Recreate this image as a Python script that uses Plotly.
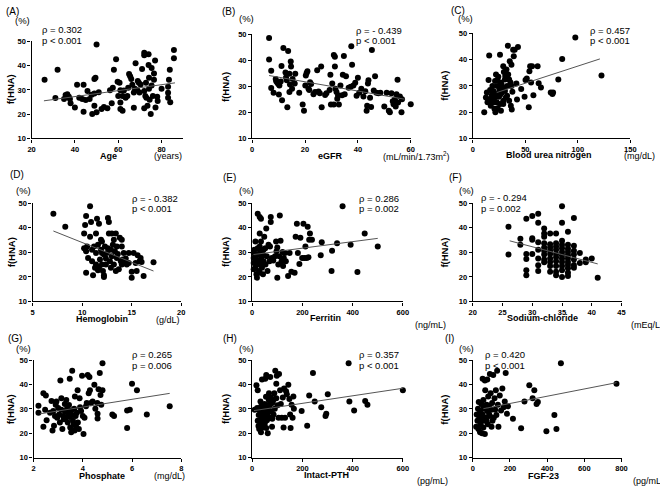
import plotly.graph_objects as go

W, H = 660, 490

# ---------------- data ----------------
age_x = [26,31,32,35,35.7,36.5,37.2,37.7,38,40,41,42,43.4,44,44,45,45.8,46.8,47.7,48,49,49,49,49.5,50,50,51,52.3,53.4,55,56.2,57,57.5,58,59,59.7,60,60.6,61,61,61,62,62,62.6,63.4,64.2,64.6,65,65.5,66,66.5,67.2,67.2,67.7,68,68.8,69,69.5,69.8,70.3,71,72,72,72,72,72.5,72.8,73,73.5,74,74,74.2,74.2,74.5,75,75.4,75.4,76,76.5,76.5,77,77.2,78,78.2,80,83,83,83.4,83.8,84,85.7,85.7,83]
age_y = [34.2,26.7,38.3,26.2,27.9,28.2,27.2,26.2,24.5,22.8,32.1,26.8,26.2,32.1,21,25.8,29.5,26.2,28,20.1,23.5,28.5,34.5,35,48.7,20.8,29,22.1,23,22.4,29.9,24.5,30.9,38.3,42.6,33.4,27.5,32.9,29.9,24.8,22.1,21.4,27.5,29.7,26.8,27.5,30.9,36.5,35.6,34.5,32.1,28.9,22.7,30.5,41,29.9,33.7,32.9,28.9,32.2,38.6,45.3,44.3,29.5,22.4,27.5,32.9,26.8,23.5,44.7,40.2,35,30.5,25.9,20.1,39,31.8,27.5,36.7,34.2,42.1,22.8,27.2,25.4,30.5,26.8,31.3,34.2,38.3,24.9,46.4,43,28.8]

egfr_x = [6.4,6.4,7.2,7.2,8.1,8.9,9.1,9.5,9.9,10.1,10.3,10.8,11.1,11.3,11.8,12.6,12.8,13.1,13.3,13.6,14.1,14.1,14.3,14.6,14.7,15.1,15.3,16.1,16.3,17.8,19.1,19.6,20.1,20.3,20.6,20.9,21.3,21.6,21.9,22.3,23.2,23.8,24.6,25.1,25.6,26.1,26.3,27.6,28.1,29.3,29.6,29.8,30.3,30.9,30.9,31.3,31.3,31.5,31.9,32.2,32.5,32.8,33.4,34,34.3,34.7,35,35.5,36.5,37.3,37.5,37.8,38.3,39,39.5,40,40.5,41.3,42.1,42.8,43.3,43.5,43.8,44,44.6,45,45.3,46,46.5,47,47.8,48.5,50,50.9,51.7,52.1,52.7,53.2,53.5,54,54.3,54.6,55,55.2,55.9,56.5,56.7,60]
egfr_y = [48.6,40.4,36,29.4,27.6,32.9,32,31.4,30.9,26.9,30.4,31.9,37.9,24.7,44.8,35.4,33.4,32.4,22,43.6,34.9,27.9,30.8,39.6,37.7,29.1,32.9,31.1,34.9,27.6,23.1,20.7,30.4,34.2,35.2,35.8,29.1,28.6,31.6,30.9,27,27.9,36.2,28.1,27.4,37.7,22,26.7,27.4,28.6,34.5,23.1,31.1,23.1,42.1,41.4,37.7,29.1,27.9,25.3,26.6,23.1,30.4,26.6,34.5,41.7,27,33.9,29.5,29.9,45.5,38.3,30.4,31.4,26.4,33.3,27.6,29.1,26.1,28.2,20.7,22.6,31.1,32.4,25.7,22.1,44,28.4,33.9,27.6,27.4,27.6,22.3,27.6,20.7,20.1,27.4,24.3,23.2,25.1,22.3,27,32.6,23.8,26.1,20.1,25.1,23.2]

bun_x = [10.9,12.5,13.4,14,15,15.6,16.5,16.5,17.1,18.1,18.7,19,19.6,20.3,20.6,21.2,21.5,22.1,22.1,22.8,23.4,23.7,24.3,24.6,25.3,25.9,25.9,26.5,26.8,27.4,28.4,29,29,29.6,30.6,30.9,31.5,32.1,32.7,33.4,33.7,34.6,35.2,35.9,36.2,36.8,37.1,37.7,38.4,39,39.9,41.5,42.1,43,46.1,49.3,50.2,51.4,53.3,53.9,54.6,55.5,56.4,57.7,61.7,62.7,64.9,74.2,75.8,76.4,81.4,85.1,97.6,122.5,21.2,25.9,27.4,30.6,19,23.4,29,32.7,34.6,36.8]
bun_y = [20,25.6,27.5,23.8,32.3,41.6,28.5,25,22.5,26.5,30,23.8,28.1,25.3,21.3,31.9,20,34.4,26.9,23.8,30,21.5,33.5,25.9,28.5,41.9,23.1,31.3,20.6,27.3,29.4,37.5,24.4,35.3,28.1,33.8,25.6,36.3,30,45.3,34.4,32.5,39.4,31.3,22.5,38.1,21,27.8,43.8,41.3,43.8,30.9,24.8,44.8,28.8,25.9,32.3,32.8,21.9,35.6,37.5,31.3,37.5,26.5,37.5,31,29.4,27.5,26.9,27.5,32.5,40.3,48.5,34,23.8,26.5,30.6,32.5,27.3,32.3,23.1,26.3,24.4,30]

hb_x = [7.1,8.3,10.2,10.3,10.4,10.2,10.4,10.4,10.5,10.6,10.8,10.8,10.9,11,11,11.1,11.2,11.3,11.4,11.4,11.5,11.6,11.6,11.7,11.8,11.9,11.9,12,12,12.1,12.2,12.2,12.2,12.3,12.4,12.4,12.5,12.6,12.6,12.7,12.7,12.8,12.9,12.9,13,13,13.1,13.2,13.3,13.4,13.4,13.5,13.6,13.7,13.8,13.9,14,14,14.1,14.2,14.3,14.4,14.5,14.7,15,15,15.2,15.4,15.5,15.6,15.8,15.9,16,16.2,17.2,12,11.7,11.4,13.2,13.5,14,14.7]
hb_y = [45.7,40.4,37.7,41.1,44.8,31.7,30.4,21.7,32.4,27.7,48.8,36.4,42.4,31.1,26.4,20.7,32.4,23.7,29.7,37.7,43.7,22.7,33.1,41.7,27.1,35.1,31.1,25.1,29.7,22.4,20.7,20,29.1,32.4,27.5,25.1,29.7,31.7,44,42.4,37.7,26.4,23.7,31.1,28.4,37.7,33.1,25.1,30.4,37.7,22.4,27.7,29.3,23.1,36,26.4,35.1,25.1,27.1,29.7,26.4,27.5,25.1,25.7,19.7,22.1,29.7,25.7,22.4,28.8,26.4,27.7,26.1,20.4,26,34.4,23.7,25.1,35.1,32.4,32.4,29.7]

fer_x = [22,30,35,13,9,6,6,6,13,17,19,22,23,26,27,30,30,32,32,35,36,39,40,43,45,45,48,52,53,56,58,61,65,69,71,74,74,78,84,91,95,97,100,100,104,108,110,113,117,121,123,126,130,134,143,149,156,169,173,178,182,188,192,199,204,208,212,217,221,224,227,230,238,273,277,316,318,338,360,392,419,448,500,6,17,26,39,19,30,45]
fer_y = [45.7,44.4,43.7,34.4,31.1,27.7,25.7,23.1,23.7,21.1,19.7,31.7,29.1,26.4,22.4,37.7,32.4,29.7,25.1,34.4,27.7,23.7,30.7,21.1,28.8,26.4,36.4,31.7,25.1,39.7,28.4,22.4,33.1,26.4,32.4,44.4,42.4,27.7,26.7,28.4,34.4,30.4,19.7,32,25.1,28.4,45,34.7,26.4,30.1,24.4,27.7,29.7,26.4,20.4,29.7,22.1,21.7,36.4,41.7,29.7,25.3,36,27.7,41.7,27.7,32.4,27.7,40.4,28,35.1,37.7,35.1,28.8,34.1,22.4,30.7,33.7,48.8,33.1,22,37.7,32.4,29.7,27.1,29.3,25.7,25.1,21.7,31.1]

nacl_x = [26,26,28,28,29,29,29,29,29,30,30,30,30,31,31,31,31,31,31,31,
          32,32,32,32,32,32,32,32,32,33,33,33,33,33,33,33,33,33,
          34,34,34,34,34,34,34,34,34,34,35,35,35,35,35,35,35,35,35,35,35,35,
          36,36,36,36,36,36,36,36,36,36,36,37,37,37,37,37,37,37,38,38,39,39,40,41]
nacl_y = [40.4,29.1,35.5,33.1,43.7,29.3,27.3,22.7,20.7,44.8,35.7,35.1,29.3,45.7,42.1,34.1,31.1,27.5,24.7,22.4,
          39.7,37.7,36.4,33.7,32,30.7,29.1,27.1,26,37.7,33.3,32,30.7,29.3,27.5,26.1,24.4,22.1,
          37.7,33.7,32.4,31.1,29.3,28,26.4,24.4,22.1,20.7,48.8,42.1,34.7,33.1,31.7,30.1,28.8,27.5,26.1,24.4,22.7,20,
          38.4,33.1,31.5,30.1,28.8,27.5,26.1,24.8,23.5,21.7,20.4,44,32.7,30.7,29.1,27.1,24.8,23.7,29.7,25.7,27.1,26,27.5,19.7]

phos_x = [2.2,2.2,2.4,2.4,2.47,2.5,2.53,2.67,2.73,2.77,2.8,2.83,2.87,2.9,2.93,2.96,3,3.04,3.07,3.09,3.13,3.13,3.17,3.2,3.23,3.27,3.28,3.31,3.33,3.36,3.39,3.41,3.44,3.47,3.47,3.49,3.53,3.53,3.57,3.57,3.6,3.63,3.65,3.67,3.68,3.71,3.73,3.76,3.79,3.8,3.84,3.87,3.89,3.93,3.97,4,4.03,4.07,4.13,4.16,4.2,4.24,4.27,4.29,4.33,4.4,4.47,4.51,4.59,4.6,4.6,4.64,4.69,4.72,4.75,4.8,4.8,5.2,5.27,5.8,5.8,5.91,6,6.2,6.6,7.53]
phos_y = [31.3,28.4,36.4,22.7,29.7,35.5,25.3,28.4,33.3,21.1,29.1,23.1,27.1,31.7,33.1,26.4,30.4,27.7,24.4,41.7,34.4,29.7,21.7,27.1,25.7,32,28.8,26.4,33.7,30.1,24.4,28,31.6,42.4,26.7,22.4,29.3,20.4,45.7,27.5,25.1,23.5,30.1,21.1,35.1,27.1,22.7,28.4,37.7,24.4,21.7,34.4,30.7,29.1,43.7,27.1,19.7,26.4,31.1,32.4,44,36.4,43.1,37.7,32.4,33.1,40,30.1,32.4,28,26.1,38.1,44.8,35.7,31.7,48.8,37.7,27.7,27.1,22.1,29.3,29.7,40.4,37.7,27.7,31.1]

pth_x = [17,22,10,20,22,26,28,30,33,33,35,38,39,41,43,46,49,51,52,54,56,56,59,62,63,66,67,69,69,72,75,77,79,80,83,85,88,90,92,96,96,98,101,105,107,111,114,118,122,125,127,131,135,138,144,148,151,153,157,161,164,166,197,219,227,242,249,275,292,295,301,384,387,406,450,459,600,30,40,50,60,70,80,45,35,25,55]
pth_y = [39.7,37.7,29.7,30.4,25.1,27.5,21.7,29.3,33.1,23.7,20.4,26.7,42.1,22.4,28.4,25.1,32,27.1,42.4,30.4,44,22.1,25.3,20,29.1,33.7,36.4,31.1,26.4,43.1,34.7,28.8,22.7,32.4,33.3,27.7,36.4,30.1,45.7,40.4,34.4,43.7,31.5,26.4,44.4,37.7,32,26.4,34.7,22.4,38.4,26.4,37.3,36,40,34.1,27.7,22.1,31.7,26.4,35.1,30.1,29.1,23.1,35.5,44.8,33.1,30.7,27.1,28,36,48.8,33.1,29.3,33.3,31.7,37.7,25,30,24,28,32,26,27,31,23,35]

fgf_x = [18,21,25,28,30,32,35,39,39,42,46,48,50,53,53,57,57,60,62,65,65,67,71,74,78,78,81,83,88,92,92,96,99,101,104,110,113,117,120,124,127,131,135,138,145,152,159,166,172,177,184,189,216,260,278,304,322,331,343,350,396,439,450,474,773,32,44,57,74,88,106]
fgf_y = [22.7,27.7,25.1,30.1,21.7,32.8,26.4,20.4,29.1,23.7,32,25.7,20,42.4,27.7,33.7,22.4,30.1,25.1,41.7,19.7,37.7,26.4,31.7,42.1,29.1,23.7,35.1,31.3,44.4,27.1,36.4,29.7,22.7,32.4,44,26.4,34.4,29.7,37.7,27.5,45.7,31.7,22.7,35.5,29.3,38.4,30.7,33.1,44.8,28,31.1,26,22,33.1,39.7,34.4,37.7,32,32.8,20.8,27.5,21.7,48.8,40.4,25.1,27.1,31.1,25.1,27.7,25.1]

# regression lines (end points)
fit_x = {"A": [25.7, 86.2], "B": [6.4, 57.7], "C": [22.8, 121], "D": [7.1, 17.2], "E": [5, 500],
         "F": [26.2, 41], "G": [2.27, 7.53], "H": [7, 600], "I": [57, 773]}
fit_y = {"A": [25.5, 32.9], "B": [34.2, 25.1], "C": [27.5, 40.3], "D": [38.7, 22.4], "E": [29.1, 35.7],
         "F": [34.7, 25.3], "G": [28, 36.4], "H": [29.3, 38.5], "I": [30.1, 40.8]}

rho_text = ["ρ = 0.302", "ρ = - 0.439", "ρ = 0.457", "ρ = - 0.382", "ρ = 0.286", "ρ = - 0.294",
            "ρ = 0.265", "ρ = 0.357", "ρ = 0.420"]
p_text = ["p < 0.001", "p < 0.001", "p < 0.001", "p < 0.001", "p = 0.002", "p = 0.002",
          "p = 0.006", "p < 0.001", "p < 0.001"]
x_titles = ["Age", "eGFR", "Blood urea nitrogen", "Hemoglobin", "Ferritin", "Sodium-chloride",
            "Phosphate", "Intact-PTH", "FGF-23"]
units = ["(years)", "(mL/min/1.73m<sup>2</sup>)", "(mg/dL)", "(g/dL)", "(ng/mL)", "(mEq/L)",
         "(mg/dL)", "(pg/mL)", "(pg/mL)"]
letters = ["(A)", "(B)", "(C)", "(D)", "(E)", "(F)", "(G)", "(H)", "(I)"]
x_ranges = [[20, 90], [0, 60], [0, 150], [5, 20], [0, 600], [20, 45], [2, 8], [0, 600], [0, 800]]
x_ticks = [[20, 40, 60, 80], [0, 20, 40, 60], [0, 50, 100, 150], [5, 10, 15, 20], [0, 200, 400, 600],
           [20, 25, 30, 35, 40, 45], [2, 4, 6, 8], [0, 200, 400, 600], [0, 200, 400, 600, 800]]
y_ticks = [10, 20, 30, 40, 50]

xs = [age_x, egfr_x, bun_x, hb_x, fer_x, nacl_x, phos_x, pth_x, fgf_x]
ys = [age_y, egfr_y, bun_y, hb_y, fer_y, nacl_y, phos_y, pth_y, fgf_y]
keys = ["A", "B", "C", "D", "E", "F", "G", "H", "I"]

# ---------------- layout (pixel geometry) ----------------
boxes = [(28, 182, 38, 137), (252, 413, 31, 137), (476, 636, 30, 137),
         (29, 180, 203, 303), (252, 405, 203, 303), (476, 627, 203, 303),
         (30, 180, 363, 462), (252, 405, 363, 462), (476, 627, 363, 462)]
letter_pos = [(0, 8), (219, 8), (452, 7), (4, 174), (220, 177), (450, 177), (2, 341), (220, 341), (446, 341)]
pct_pos = [(19, 17), (246, 15), (469, 15), (20, 190), (246, 190), (470, 190), (20, 351), (246, 351), (470, 351)]
rho_pos = [(37, 26, 37), (355, 27, 37), (593, 27, 37), (128, 198, 208), (358, 198, 208), (482, 197, 208),
           (128, 357, 368), (358, 357, 368), (486, 357, 368)]
xt_pos = [(106, 155), (332, 155), (553, 154), (100, 321), (326, 320), (547, 320), (100, 481), (327, 480), (548, 481)]
unit_pos = [(150, 155), (383, 155), (627, 155), (152, 322), (415, 327), (635, 327), (150, 481), (417, 486), (637, 486)]
yt_pos = [(7, 87), (225, 85), (447, 83), (7, 253), (225, 253), (447, 253), (7, 413), (225, 413), (447, 413)]

REG = "Arial, Liberation Sans, sans-serif"


def px(x):
    return x / W


def py(y):
    return 1 - y / H


fig = go.Figure()
layout = dict(width=W, height=H, margin=dict(l=0, r=0, t=0, b=0, pad=0), showlegend=False,
              paper_bgcolor="white", plot_bgcolor="white", annotations=[])

for i in range(9):
    n = i + 1
    xa = "x" if n == 1 else f"x{n}"
    ya = "y" if n == 1 else f"y{n}"
    l, r, t, b = boxes[i]
    axis_common = dict(showline=True, linecolor="black", linewidth=1.3, ticks="outside", ticklen=3,
                       tickwidth=1.3, tickcolor="black", showgrid=False, zeroline=False,
                       tickfont=dict(family=REG, size=7.5, color="black", weight="bold"))
    layout["xaxis" if n == 1 else f"xaxis{n}"] = dict(
        domain=[px(l), px(r)], anchor=ya, range=x_ranges[i], tickvals=x_ticks[i], **axis_common)
    layout["yaxis" if n == 1 else f"yaxis{n}"] = dict(
        domain=[py(b), py(t)], anchor=xa, range=[10, 50], tickvals=y_ticks, **axis_common)

    fig.add_trace(go.Scatter(x=xs[i], y=ys[i], mode="markers", xaxis=xa, yaxis=ya,
                             marker=dict(color="black", size=6, line=dict(width=0)), cliponaxis=False))
    k = keys[i]
    fig.add_trace(go.Scatter(x=fit_x[k], y=fit_y[k], mode="lines", xaxis=xa, yaxis=ya,
                             line=dict(color="#555555", width=1)))

    ann = layout["annotations"]
    lx, ly = letter_pos[i]
    ann.append(dict(x=px(lx), y=py(ly), xref="paper", yref="paper", text=letters[i], showarrow=False,
                    xanchor="left", yanchor="middle", font=dict(family=REG, size=10, color="black")))
    cx, cy = pct_pos[i]
    ann.append(dict(x=px(cx), y=py(cy), xref="paper", yref="paper", text="(%)", showarrow=False,
                    xanchor="center", yanchor="middle", font=dict(family=REG, size=9.5, color="black")))
    rx, ry1, ry2 = rho_pos[i]
    ann.append(dict(x=px(rx), y=py(ry1), xref="paper", yref="paper", text=rho_text[i], showarrow=False,
                    xanchor="left", yanchor="middle", font=dict(family=REG, size=9.5, color="black")))
    ann.append(dict(x=px(rx), y=py(ry2), xref="paper", yref="paper", text=p_text[i], showarrow=False,
                    xanchor="left", yanchor="middle", font=dict(family=REG, size=9.5, color="black")))
    tx, ty = xt_pos[i]
    ann.append(dict(x=px(tx), y=py(ty), xref="paper", yref="paper", text=x_titles[i], showarrow=False,
                    xanchor="center", yanchor="middle",
                    font=dict(family=REG, size=9, color="black", weight="bold")))
    ux, uy = unit_pos[i]
    ann.append(dict(x=px(ux), y=py(uy), xref="paper", yref="paper", text=units[i], showarrow=False,
                    xanchor="left", yanchor="middle", font=dict(family=REG, size=9, color="black")))
    yx, yy = yt_pos[i]
    ann.append(dict(x=px(yx), y=py(yy), xref="paper", yref="paper", text="f(HNA)", showarrow=False,
                    textangle=-90, xanchor="center", yanchor="middle",
                    font=dict(family=REG, size=9.5, color="black", weight="bold")))

fig.update_layout(**layout)
fig.write_html("out.html", config={"displayModeBar": False},
               post_script="document.body.style.margin='0';document.body.style.padding='0';")
